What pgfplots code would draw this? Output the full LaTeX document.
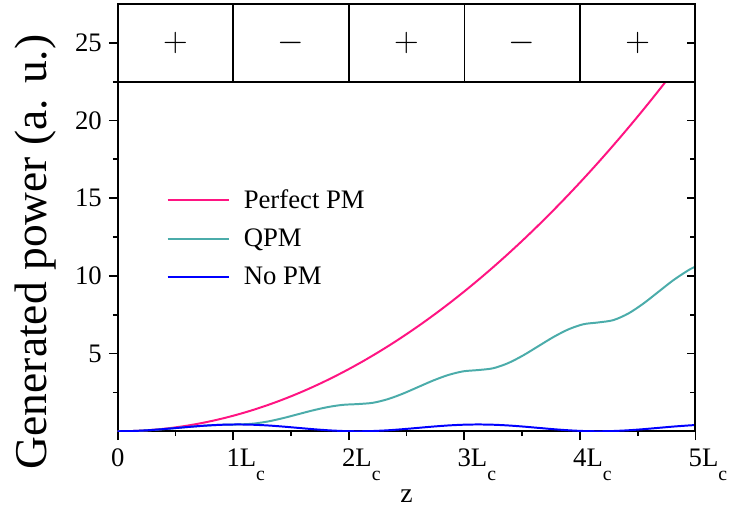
\documentclass[border=0pt]{standalone}
\usepackage{pgfplots}
\pgfplotsset{compat=1.18}
\usepackage{fontspec}
\setmainfont{Liberation Serif}
\definecolor{pmpink}{RGB}{255,20,130}
\definecolor{qpmteal}{RGB}{75,172,170}
\definecolor{nopmblue}{RGB}{0,0,255}
\newcommand{\lc}[1]{#1\rlap{L\raisebox{-7pt}{\fontsize{10}{10}\selectfont c}}}
\begin{document}
\begin{tikzpicture}
\begin{axis}[
  at={(0,0)}, anchor=south west,
  scale only axis, width=292pt, height=216pt,
  xmin=0, xmax=5, ymin=0, ymax=27.5,
  axis line style={line width=1pt},
  tick style={line width=0.9pt, black},
  tick align=outside,
  xtick pos=left, ytick pos=left,
  xtick={0,1,2,3,4,5},
  xticklabels={0,\lc{1},\lc{2},\lc{3},\lc{4},\lc{5}},
  minor xtick={0.5,1.5,2.5,3.5,4.5},
  ytick={5,10,15,20,25},
  minor ytick={2.5,7.5,12.5,17.5,22.5},
  major tick length=4.5pt, minor tick length=2.5pt,
  /pgf/number format/assume math mode=true,
  ticklabel style={font=\fontsize{13.5}{15}\selectfont},
  xticklabel style={yshift=-1pt},
  xlabel={z},
  xlabel style={font=\fontsize{14}{16}\selectfont, at={(axis description cs:0.5,-0.152)}, anchor=center},
  ylabel={Generated power (a. u.)},
  ylabel style={font=\fontsize{23}{26}\selectfont, at={(axis description cs:-0.143,0.42)}, anchor=center},
  legend style={draw=none, fill=none, at={(axis cs:0.42,15.85)}, anchor=north west,
    font=\fontsize{13.5}{15}\selectfont, row sep=4.8pt, inner sep=0pt},
  legend cell align=left,
  legend image code/.code={\draw[#1, line width=1pt] (0pt,0pt) -- (31pt,0pt);},
]
\addplot[pmpink, line width=1pt, smooth] coordinates {
(0,0) (0.125,0.015625) (0.25,0.0625) (0.375,0.140625) (0.5,0.25) (0.625,0.390625) (0.75,0.5625) (0.875,0.765625)
(1,1) (1.125,1.265625) (1.25,1.5625) (1.375,1.890625) (1.5,2.25) (1.625,2.640625) (1.75,3.0625) (1.875,3.515625)
(2,4) (2.125,4.515625) (2.25,5.0625) (2.375,5.640625) (2.5,6.25) (2.625,6.890625) (2.75,7.5625) (2.875,8.265625)
(3,9) (3.125,9.765625) (3.25,10.5625) (3.375,11.390625) (3.5,12.25) (3.625,13.140625) (3.75,14.0625) (3.875,15.015625)
(4,16) (4.125,17.015625) (4.25,18.0625) (4.375,19.140625) (4.5,20.25) (4.625,21.390625) (4.743,22.5)
};
\addlegendentry{\hspace{5pt}Perfect PM}
\addplot[qpmteal, line width=1pt, smooth] coordinates {
(0,0) (0.13,0.0167) (0.26,0.0641) (0.39,0.1351) (0.52,0.2189) (0.65,0.3026) (0.78,0.3736) (0.91,0.4211)
(1.04,0.4377) (1.17,0.4877) (1.30,0.6300) (1.43,0.8430) (1.56,1.0943) (1.69,1.3456) (1.82,1.5586) (1.95,1.7009)
(2.08,1.7509) (2.21,1.8342) (2.34,2.0714) (2.47,2.4264) (2.60,2.8452) (2.73,3.2639) (2.86,3.6190) (2.99,3.8561)
(3.12,3.9395) (3.25,4.0561) (3.38,4.3882) (3.51,4.8852) (3.64,5.4715) (3.77,6.0578) (3.90,6.5548) (4.03,6.8869)
(4.16,7.0035) (4.29,7.1535) (4.42,7.5805) (4.55,8.2195) (4.68,8.9733) (4.81,9.7271) (4.94,10.3661) (5,10.595)
};
\addlegendentry{\hspace{5pt}QPM}
\addplot[nopmblue, line width=1pt, smooth] coordinates {
(0,0) (0.13,0.0167) (0.26,0.0641) (0.39,0.1351) (0.52,0.2189) (0.65,0.3026) (0.78,0.3736) (0.91,0.4210)
(1.04,0.4377) (1.17,0.4210) (1.30,0.3736) (1.43,0.3026) (1.56,0.2189) (1.69,0.1351) (1.82,0.0641) (1.95,0.0167)
(2.08,0) (2.21,0.0167) (2.34,0.0641) (2.47,0.1351) (2.60,0.2189) (2.73,0.3026) (2.86,0.3736) (2.99,0.4210)
(3.12,0.4377) (3.25,0.4210) (3.38,0.3736) (3.51,0.3026) (3.64,0.2189) (3.77,0.1351) (3.90,0.0641) (4.03,0.0167)
(4.16,0) (4.29,0.0167) (4.42,0.0641) (4.55,0.1351) (4.68,0.2189) (4.81,0.3026) (4.94,0.3736) (5,0.399)
};
\addlegendentry{\hspace{5pt}No PM}
% sign band
\draw[line width=1pt] (axis cs:0,22.5) -- (axis cs:5,22.5);
\draw[line width=0.8pt] (axis cs:1,22.5) -- (axis cs:1,27.5);
\draw[line width=0.8pt] (axis cs:2,22.5) -- (axis cs:2,27.5);
\draw[line width=0.8pt] (axis cs:3,22.5) -- (axis cs:3,27.5);
\draw[line width=0.8pt] (axis cs:4,22.5) -- (axis cs:4,27.5);
\node[font=\fontsize{17}{18}\selectfont] at (axis cs:0.5,25) {$+$};
\node[font=\fontsize{17}{18}\selectfont] at (axis cs:1.5,25) {$-$};
\node[font=\fontsize{17}{18}\selectfont] at (axis cs:2.5,25) {$+$};
\node[font=\fontsize{17}{18}\selectfont] at (axis cs:3.5,25) {$-$};
\node[font=\fontsize{17}{18}\selectfont] at (axis cs:4.5,25) {$+$};
\end{axis}
\begin{axis}[
  at={(0,0)}, anchor=south west,
  scale only axis, width=292pt, height=216pt,
  xmin=0, xmax=5, ymin=0, ymax=27.5,
  axis x line=none, axis y line*=right,
  axis line style={line width=1pt},
  tick style={line width=0.9pt, black},
  tick align=inside,
  ytick={5,10,15,20,25},
  minor ytick={2.5,7.5,12.5,17.5,22.5},
  major tick length=4.5pt, minor tick length=2.5pt,
  yticklabels={},
]
\end{axis}
\pgfresetboundingbox
\path (-59.5pt,-43pt) rectangle (310pt,218pt);
\end{tikzpicture}
\end{document}
